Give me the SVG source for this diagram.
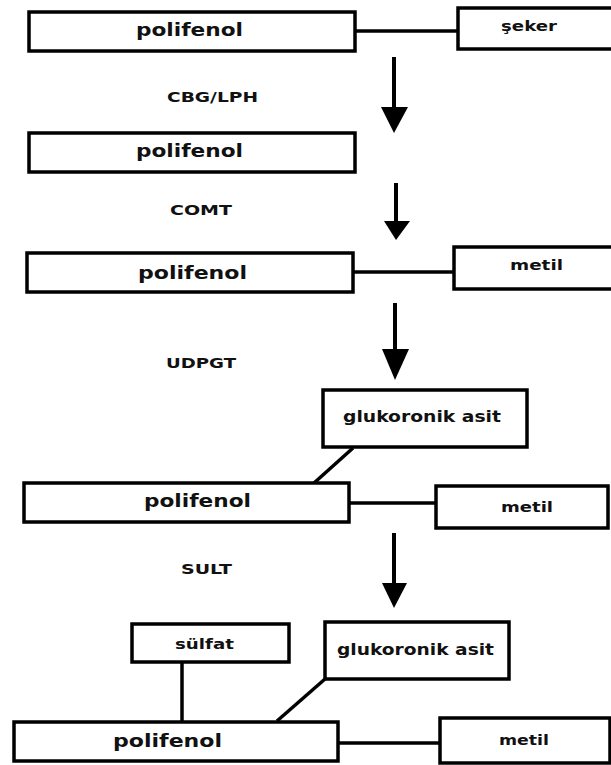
<svg xmlns="http://www.w3.org/2000/svg" width="611" height="765" viewBox="0 0 611 765">
<defs>
<style>
.box{fill:#fff;stroke:#000;stroke-width:3.5}
.ln{stroke:#000;stroke-width:3.5;fill:none}
.sh{stroke:#000;stroke-width:4;fill:none}
.hd{fill:#000}
text{font-family:"DejaVu Sans","Liberation Sans",sans-serif;font-weight:bold;fill:#111}
.big{font-size:18px}
.sm{font-size:14px}
.md{font-size:15px}
</style>
</defs>
<rect width="611" height="765" fill="#fff"/>
<g id="connectors">
<line class="ln" x1="355" y1="31" x2="458" y2="31"/>
<line class="ln" x1="353" y1="272" x2="454" y2="272"/>
<line class="ln" x1="353" y1="448" x2="314" y2="483"/>
<line class="ln" x1="349" y1="503" x2="436" y2="503"/>
<line class="ln" x1="182" y1="662" x2="182" y2="722"/>
<line class="ln" x1="325" y1="679" x2="277" y2="721"/>
<line class="ln" x1="338" y1="743" x2="444" y2="743"/>
<line class="sh" x1="394" y1="57" x2="394" y2="110"/>
<polygon class="hd" points="381,107 408,107 394,133"/>
<line class="sh" x1="396" y1="183" x2="396" y2="224"/>
<polygon class="hd" points="384,221 410,221 396,240"/>
<line class="sh" x1="395" y1="303" x2="395" y2="352"/>
<polygon class="hd" points="382,349 409,349 395,380"/>
<line class="sh" x1="394" y1="533" x2="394" y2="586"/>
<polygon class="hd" points="382,583 407,583 394,608"/>
</g>
<g id="n1"><rect class="box" x="29" y="12" width="326" height="39"/><text class="big" x="136" y="36" textLength="107" lengthAdjust="spacingAndGlyphs">polifenol</text></g>
<g id="n2"><rect class="box" x="458" y="8" width="160" height="41"/><text class="sm" x="501" y="31" textLength="56" lengthAdjust="spacingAndGlyphs">şeker</text></g>
<g id="l1"><text class="sm" x="167" y="102" textLength="91" lengthAdjust="spacingAndGlyphs">CBG/LPH</text></g>
<g id="n3"><rect class="box" x="29" y="133" width="326" height="39"/><text class="big" x="136" y="157" textLength="107" lengthAdjust="spacingAndGlyphs">polifenol</text></g>
<g id="l2"><text class="sm" x="170" y="215" textLength="62" lengthAdjust="spacingAndGlyphs">COMT</text></g>
<g id="n4"><rect class="box" x="27" y="253" width="326" height="39"/><text class="big" x="138" y="279" textLength="109" lengthAdjust="spacingAndGlyphs">polifenol</text></g>
<g id="n5"><rect class="box" x="454" y="247" width="165" height="42"/><text class="sm" x="510" y="270" textLength="53" lengthAdjust="spacingAndGlyphs">metil</text></g>
<g id="l3"><text class="sm" x="166" y="368" textLength="70" lengthAdjust="spacingAndGlyphs">UDPGT</text></g>
<g id="n6"><rect class="box" x="323" y="390" width="204" height="57"/><text class="md" x="343" y="422" textLength="158" lengthAdjust="spacingAndGlyphs">glukoronik asit</text></g>
<g id="n7"><rect class="box" x="24" y="483" width="325" height="39"/><text class="big" x="144" y="507" textLength="107" lengthAdjust="spacingAndGlyphs">polifenol</text></g>
<g id="n8"><rect class="box" x="436" y="486" width="172" height="42"/><text class="sm" x="501" y="512" textLength="52" lengthAdjust="spacingAndGlyphs">metil</text></g>
<g id="l4"><text class="sm" x="181" y="574" textLength="51" lengthAdjust="spacingAndGlyphs">SULT</text></g>
<g id="n9"><rect class="box" x="132" y="624" width="157" height="38"/><text class="sm" x="175" y="649" textLength="59" lengthAdjust="spacingAndGlyphs">sülfat</text></g>
<g id="n10"><rect class="box" x="325" y="622" width="184" height="57"/><text class="md" x="337" y="655" textLength="157" lengthAdjust="spacingAndGlyphs">glukoronik asit</text></g>
<g id="n11"><rect class="box" x="14" y="722" width="324" height="39"/><text class="big" x="113" y="747" textLength="109" lengthAdjust="spacingAndGlyphs">polifenol</text></g>
<g id="n12"><rect class="box" x="440" y="718" width="170" height="45"/><text class="sm" x="499" y="745" textLength="50" lengthAdjust="spacingAndGlyphs">metil</text></g>
</svg>
